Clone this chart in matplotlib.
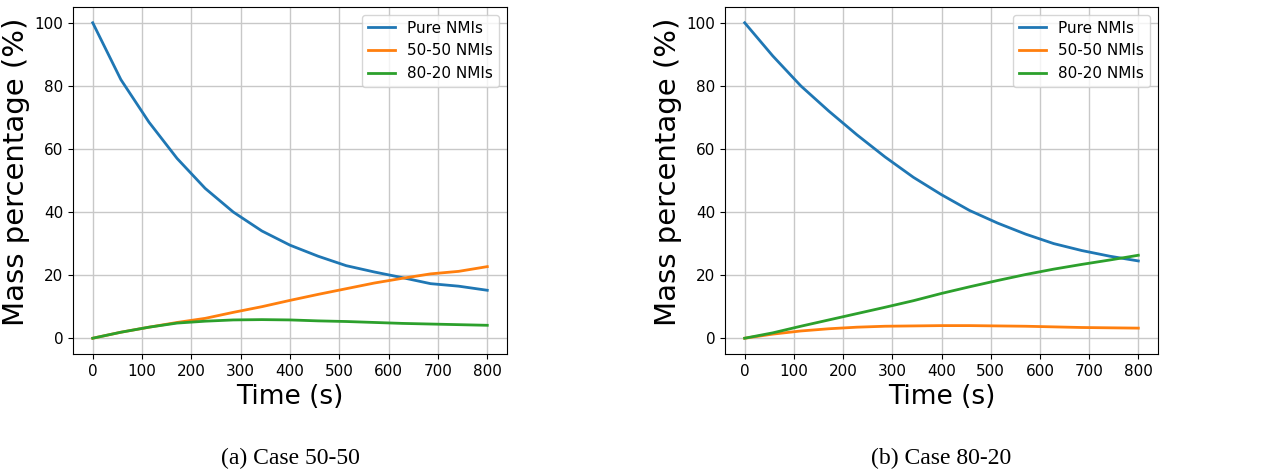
import matplotlib
matplotlib.use("Agg")
import matplotlib.pyplot as plt

# time grid (s)
t = [0, 57, 114, 171, 228, 285, 343, 400, 457, 514, 571, 628, 685, 742, 800]

# (a) Case 50-50
pure_a = [100, 82, 68.5, 57, 47.5, 40, 34, 29.5, 26, 23, 21, 19.2, 17.3, 16.5, 15.2]
fifty_a = [0, 1.9, 3.5, 5.0, 6.3, 8.2, 10.0, 12.0, 13.9, 15.7, 17.5, 19.0, 20.4, 21.2, 22.7]
eighty_a = [0, 1.9, 3.5, 4.8, 5.4, 5.8, 5.9, 5.8, 5.5, 5.3, 5.0, 4.7, 4.5, 4.3, 4.1]

# (b) Case 80-20
pure_b = [100, 89.5, 80, 72, 64.5, 57.5, 51, 45.5, 40.5, 36.5, 33, 30, 27.8, 26, 24.5]
fifty_b = [0, 1.3, 2.3, 3.0, 3.5, 3.8, 3.9, 4.0, 4.0, 3.9, 3.8, 3.6, 3.4, 3.3, 3.2]
eighty_b = [0, 1.7, 3.8, 5.8, 7.8, 9.8, 11.9, 14.2, 16.3, 18.3, 20.2, 21.9, 23.4, 24.8, 26.3]

labels = ["Pure NMIs", "50-50 NMIs", "80-20 NMIs"]
colors = ["#1f77b4", "#ff7f0e", "#2ca02c"]
captions = ["(a) Case 50-50", "(b) Case 80-20"]

fig = plt.figure(figsize=(12.82, 4.75), dpi=100)
ax1 = fig.add_axes([73 / 1282, 1 - 354 / 475, 434 / 1282, 347 / 475])
ax2 = fig.add_axes([725 / 1282, 1 - 354 / 475, 433 / 1282, 347 / 475])

for ax, series, cap in [(ax1, [pure_a, fifty_a, eighty_a], captions[0]),
                        (ax2, [pure_b, fifty_b, eighty_b], captions[1])]:
    for y, lab, c in zip(series, labels, colors):
        ax.plot(t, y, color=c, linewidth=2, label=lab)
    ax.set_xlim(-40, 840)
    ax.set_ylim(-5, 105)
    ax.set_xticks(range(0, 801, 100))
    ax.set_yticks(range(0, 101, 20))
    ax.grid(True, color="#c8c8c8", linewidth=1)
    ax.tick_params(labelsize=11)
    ax.set_xlabel("Time (s)", fontsize=19)
    ax.set_ylabel("Mass percentage (%)", fontsize=21)
    ax.yaxis.set_label_coords(-0.1, 0.525)
    ax.legend(loc="upper right", fontsize=11, handlelength=1.8)
    ax.text(0.5, -0.30, cap, transform=ax.transAxes, ha="center", va="center",
            fontsize=17, family="Liberation Serif")

fig.savefig("out.png", dpi=100)
